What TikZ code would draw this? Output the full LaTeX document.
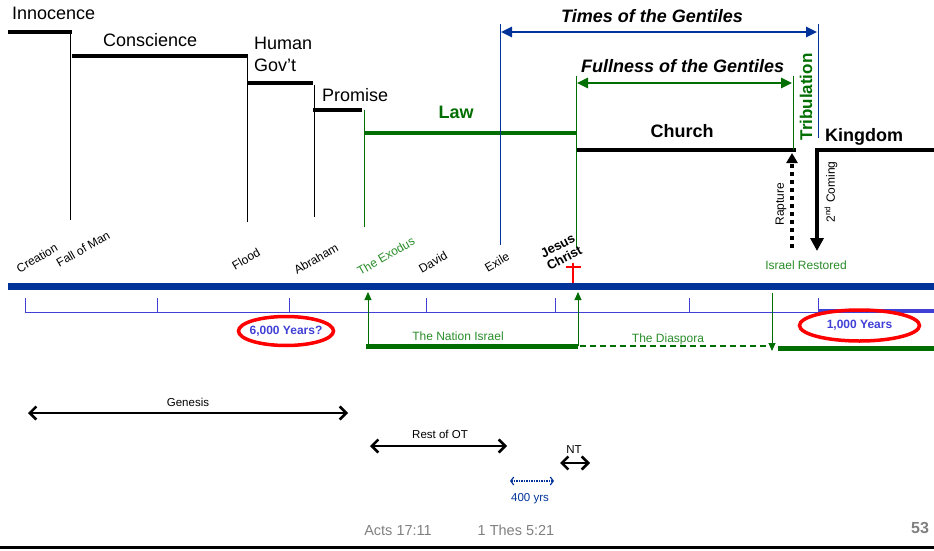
\documentclass[tikz,border=0pt]{standalone}
\usepackage{fontspec}
\setmainfont{Liberation Sans}
\usetikzlibrary{arrows.meta}
\usetikzlibrary{positioning}
\definecolor{ageblue}{RGB}{0,51,153}
\definecolor{scaleblue}{RGB}{64,64,215}
\definecolor{lawgreen}{RGB}{0,110,0}
\definecolor{textgreen}{RGB}{40,140,40}
\definecolor{footgray}{RGB}{128,128,128}
\newcommand{\px}[1]{\fontsize{#1}{#1}\selectfont}

\begin{document}
\begin{tikzpicture}[line cap=butt,line join=miter,>={Triangle[length=11pt,width=10pt]},x=1pt,y=-1pt,
  every node/.style={inner sep=0pt},
  era/.style={line width=4.5pt},
  divider/.style={line width=0.9pt},
  event/.style={rotate=30,font=\px{12}},
  smallhead/.style={>={Triangle[length=8pt,width=7pt]}},
  booklen/.style={{Straight Barb[length=6.5pt,width=13pt]}-{Straight Barb[length=6.5pt,width=13pt]},line width=2.5pt}]
\useasboundingbox (0,0) rectangle (934,551);
% dispensations
\draw[era] (8,32) -- (72,32);
\draw[divider] (70,32) -- (70,220);
\draw[era] (72,56) -- (248,56);
\draw[divider] (247,56) -- (247,222);
\draw[era] (247,83) -- (313,83);
\draw[divider] (314,85) -- (314,217);
\draw[era] (313,110) -- (362,110);
\draw[divider,color=lawgreen] (364,110) -- (364,227);
\draw[era,color=lawgreen] (364,133) -- (576,133);
\draw[era] (576,150) -- (796,150);
\draw[era,-{Triangle[length=13pt,width=13pt]}] (934,150) -- (817,150) -- (817,251);
\draw (12,20) node[anchor=base west,font=\px{18}] (innocence) {Innocence};
\draw (103,47) node[anchor=base west,font=\px{18}] (conscience) {Conscience};
\draw (254,37) node[anchor=north west,font=\fontsize{18}{22}\selectfont,align=left] (humangov) {Human\\Gov't};
\draw (322,101) node[anchor=base west,font=\px{18}] (promise) {Promise};
\draw (456,118) node[anchor=base,font=\bfseries\px{18},color=lawgreen] (law) {Law};
\draw (682,137) node[anchor=base,font=\bfseries\px{18}] (church) {Church};
\draw (825,141) node[anchor=base west,font=\bfseries\px{18}] (kingdom) {Kingdom};
% gentile spans
\draw[divider,color=ageblue] (500,24) -- (500,245);
\draw[divider,color=ageblue] (818,24) -- (818,138);
\draw[<->,line width=2.5pt,color=ageblue] (501,32) -- (817,32);
\draw (561,23) node[anchor=base west,font=\bfseries\itshape\px{18}] (times) {Times of the Gentiles};
\draw[divider,color=lawgreen] (576,76) -- (576,248);
\draw[divider,color=lawgreen] (793,76) -- (793,150);
\draw[<->,line width=2.5pt,color=lawgreen] (577,83) -- (792,83);
\draw (581,73) node[anchor=base west,font=\bfseries\itshape\px{18}] (fullness) {Fullness of the Gentiles};
\draw (806,97) node[rotate=90,font=\bfseries\px{17},color=lawgreen] (tribulation) {Tribulation};
% rapture and second coming
\draw[line width=4pt,dash pattern=on 4pt off 4pt,-{Triangle[length=10pt,width=11pt]}] (792,248) -- (792,153);
\draw (781,204) node[rotate=90,font=\px{12}] (rapture) {Rapture};
\draw (831,192) node[rotate=90,font=\px{12}] (coming) {2\textsuperscript{nd} Coming};
\draw (806,265) node[font=\px{12},color=textgreen] (restored) {Israel Restored};
% events
\draw (37,258) node[event] (creation) {Creation};
\draw (83,249) node[event] (fall) {Fall of Man};
\draw (246,259) node[event] (flood) {Flood};
\draw (316,259) node[event] (abraham) {Abraham};
\draw (386,256) node[event,color=textgreen] (exodus) {The Exodus};
\draw (433,262) node[event] (david) {David};
\draw (497,262) node[event] (exile) {Exile};
\draw (561,252) node[rotate=28,font=\bfseries\fontsize{13}{14}\selectfont,align=center] (jesus) {Jesus\\Christ};
\draw[color=red,line width=1.5pt] (573,263) -- (573,285);
\draw[color=red,line width=1.5pt] (566,267) -- (581,267);
% time line
\draw[line width=7pt,color=ageblue] (8,286) -- (934,286);
\draw[color=scaleblue,line width=1pt] (25,298) -- (25,312) -- (818,312);
\foreach \x in {157,289,426,555,689,818}
\draw[color=scaleblue,line width=1pt] (\x,298) -- (\x,312);
\draw[color=scaleblue,line width=3.5pt] (818,311) -- (934,311);
% israel
\draw[divider,smallhead,color=lawgreen,->] (368,346) -- (368,292);
\draw[divider,smallhead,color=lawgreen,->] (578,346) -- (578,292);
\draw[divider,smallhead,color=lawgreen,->] (772,293) -- (772,351);
\draw[line width=5pt,color=lawgreen] (366,346) -- (578,346);
\draw[line width=2pt,color=lawgreen,dash pattern=on 6pt off 4pt] (580,346) -- (768,346);
\draw[line width=5pt,color=lawgreen] (778,348) -- (934,348);
\draw (458,340) node[anchor=base,font=\px{12},color=textgreen] (nation) {The Nation Israel};
\draw (668,342) node[anchor=base,font=\px{12},color=textgreen] (diaspora) {The Diaspora};
\draw (286,331) node[font=\bfseries\px{12},color=scaleblue] (sixthousand) {6,000 Years?};
\draw[color=red,line width=3.5pt] (sixthousand) ellipse (47.5 and 14.5);
\draw (859.5,325.5) node[font=\bfseries\px{12},color=scaleblue] (thousand) {1,000 Years};
\draw[color=red,line width=3.5pt] (thousand) ellipse (60 and 15.5);
% books
\draw[booklen] (28,413) -- (348,413);
\draw (188,406) node[anchor=base,font=\px{11.5}] (genesis) {Genesis};
\draw[booklen] (370,446) -- (507,446);
\draw (440,438) node[anchor=base,font=\px{11.5}] (restot) {Rest of OT};
\draw[booklen] (560,463) -- (590,463);
\draw (574,453) node[anchor=base,font=\px{11.5}] (nt) {NT};
\draw[{Straight Barb[length=3pt,width=8pt]}-{Straight Barb[length=3pt,width=8pt]},line width=1.2pt,dash pattern=on 1.5pt off 1pt,color=ageblue] (510,481) -- (554,481);
\draw (530,501) node[anchor=base,font=\px{11.5},color=ageblue] (silent) {400 yrs};
% footer
\draw (398,535) node[anchor=base,font=\px{14.5},color=footgray] (acts) {Acts 17:11};
\draw (516,535) node[anchor=base,font=\px{14.5},color=footgray] (thes) {1 Thes 5:21};
\draw (920,533) node[anchor=base,font=\bfseries\px{16},color=footgray] (page) {53};
\draw[line width=3pt] (0,547) -- (934,547);
\end{tikzpicture}
\end{document}
